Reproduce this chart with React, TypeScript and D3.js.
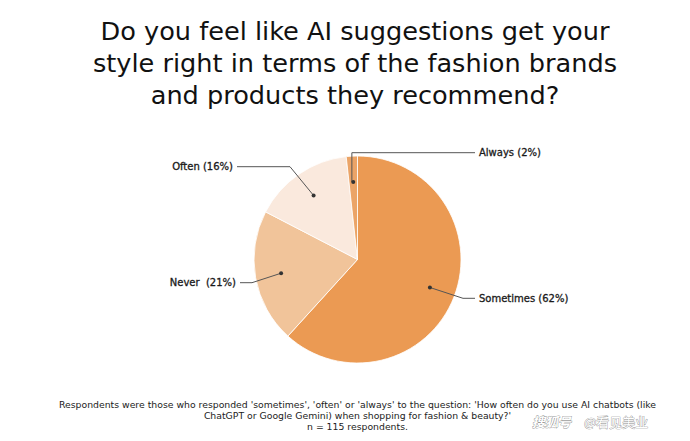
import React from 'react';
import * as d3 from 'd3';

const categories = ['Sometimes', 'Never', 'Often', 'Always'];
const counts = [71, 24, 18, 2];
const labels = ['Sometimes (62%)', 'Never  (21%)', 'Often (16%)', 'Always (2%)'];
const colors = ['#EB9A53', '#F1C49A', '#FAE9DD', '#EBA467'];
const titleLines = [
  'Do you feel like AI suggestions get your',
  'style right in terms of the fashion brands',
  'and products they recommend?',
];
const footnoteLines = [
  "Respondents were those who responded 'sometimes', 'often' or 'always' to the question: 'How often do you use AI chatbots (like",
  "ChatGPT or Google Gemini) when shopping for fashion & beauty?'",
  'n = 115 respondents.',
];
const watermark = ['搜狐号', '@看见美业'];

const W = 690;
const H = 441;
const cx = 357.5;
const cy = 259.5;
const R = 103.5;

// leader-line layout (label side, elbow y, elbow x, end x)
const leaderLayout = [
  { side: 'right', y: 298.3, ex: 463, endX: 475 },
  { side: 'left', y: 282.7, ex: 252, endX: 240 },
  { side: 'left', y: 166.7, ex: 290, endX: 237 },
  { side: 'right', y: 152.7, ex: null, endX: 475 },
];

const FONT = "'DejaVu Sans', 'Open Sans', sans-serif";

export default function App() {
  const pie = d3
    .pie<number>()
    .sort(null)
    .value((d) => d);
  const arcs = pie(counts);
  const arc = d3.arc<d3.PieArcDatum<number>>().innerRadius(0).outerRadius(R);
  const dotArc = d3
    .arc<d3.PieArcDatum<number>>()
    .innerRadius(R * 0.75)
    .outerRadius(R * 0.75);

  return (
    <svg
      width={W}
      height={H}
      viewBox={`0 0 ${W} ${H}`}
      style={{ position: 'fixed', left: 0, top: 0, background: '#fff' }}
    >
      <rect width={W} height={H} fill="#fff" />
      <g fontFamily={FONT} fill="#111" textAnchor="middle">
        {titleLines.map((t, i) => (
          <text key={i} x={355} y={39.5 + i * 32} fontSize={25.6}>
            {t}
          </text>
        ))}
      </g>
      <g transform={`translate(${cx},${cy})`}>
        {arcs.map((a, i) => (
          <path
            key={categories[i]}
            d={arc(a) || ''}
            fill={colors[i]}
            stroke="#fff"
            strokeWidth={0.8}
          />
        ))}
      </g>
      <g fontFamily={FONT} fontSize={10} fill="#1a1a1a">
        {arcs.map((a, i) => {
          const [dx, dy] = dotArc.centroid(a);
          const px = cx + dx;
          const py = cy + dy;
          const L = leaderLayout[i];
          const pts =
            L.ex === null
              ? [
                  [px - 1.4, py],
                  [px - 1.4, L.y],
                  [L.endX, L.y],
                ]
              : [
                  [px, py],
                  [L.ex, L.y],
                  [L.endX, L.y],
                ];
          const lineGen = d3.line();
          const tx = L.side === 'right' ? L.endX + 4 : L.endX - 4;
          return (
            <g key={categories[i]}>
              <path d={lineGen(pts as [number, number][]) || ''} fill="none" stroke="#555" strokeWidth={1} />
              <circle cx={px} cy={py} r={2} fill="#333" />
              <text
                x={tx}
                y={L.y + 3.6}
                textAnchor={L.side === 'right' ? 'start' : 'end'}
                stroke="#1a1a1a"
                strokeWidth={0.3}
                style={{ whiteSpace: 'pre' }}
              >
                {labels[i]}
              </text>
            </g>
          );
        })}
      </g>
      <g fontFamily={FONT} fontSize={9.3} fill="#222" textAnchor="middle">
        {footnoteLines.map((t, i) => (
          <text key={i} x={357.5} y={408 + i * 10.8}>
            {t}
          </text>
        ))}
      </g>
      <g fontFamily="'Noto Sans CJK SC', sans-serif" fontSize={13} fill="#fff" stroke="#8a8a8a" strokeWidth={0.7} style={{ paintOrder: 'stroke' }}>
        <text x={532} y={427} fontStyle="italic" fontWeight={700}>
          {watermark[0]}
        </text>
        <text x={584} y={427}>
          {watermark[1]}
        </text>
      </g>
    </svg>
  );
}
